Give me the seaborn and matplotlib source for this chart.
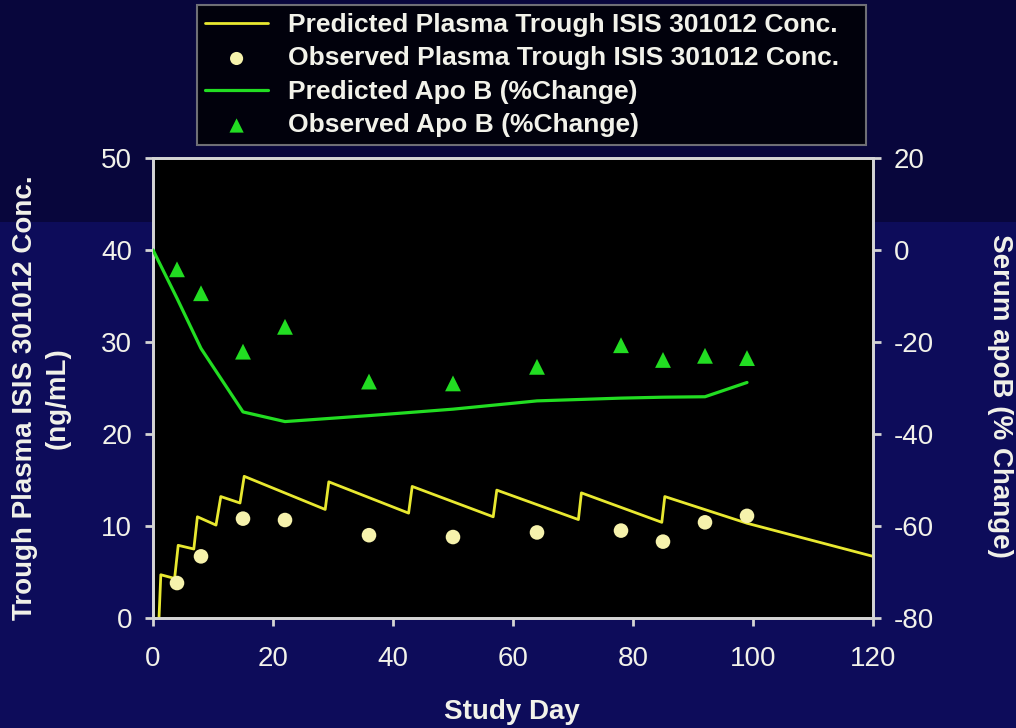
import numpy as np
import pandas as pd
import matplotlib
matplotlib.use("Agg")
import matplotlib.pyplot as plt
from matplotlib.patches import Rectangle
import seaborn as sns

# ---- data ----
pred_conc_day = [1.0, 1.3, 3.6, 4.2, 6.8, 7.4, 10.5, 11.3, 14.5, 15.2, 28.7, 29.3,
                 42.6, 43.2, 56.7, 57.3, 70.9, 71.4, 84.8, 85.3, 99.0, 120.0]
pred_conc = [0.0, 4.7, 4.3, 7.9, 7.5, 11.0, 10.1, 13.2, 12.5, 15.4, 11.8, 14.8,
             11.4, 14.3, 11.0, 13.9, 10.7, 13.6, 10.4, 13.2, 10.3, 6.7]

obs_conc_day = [4, 8, 15, 22, 36, 50, 64, 78, 85, 92, 99]
obs_conc = [3.8, 6.7, 10.8, 10.65, 9.0, 8.8, 9.3, 9.5, 8.3, 10.4, 11.1]

pred_apob_day = [0, 4, 8, 15, 22, 36, 50, 64, 78, 85, 92, 99]
pred_apob = [0.0, -10.5, -21.4, -35.2, -37.3, -36.0, -34.6, -32.8, -32.2, -32.0, -31.9, -28.8]

obs_apob_day = [4, 8, 15, 22, 36, 50, 64, 78, 85, 92, 99]
obs_apob = [-4.2, -9.4, -22.1, -16.7, -28.6, -29.0, -25.4, -20.7, -23.9, -23.0, -23.5]

labels = ["Predicted Plasma Trough ISIS 301012 Conc.",
          "Observed Plasma Trough ISIS 301012 Conc.",
          "Predicted Apo B (%Change)",
          "Observed Apo B (%Change)"]

x_ticks = [0, 20, 40, 60, 80, 100, 120]
left_ticks = [0, 10, 20, 30, 40, 50]
right_ticks = [-80, -60, -40, -20, 0, 20]

# ---- styling ----
sns.set_theme(style="white")
plt.rcParams["font.family"] = ["Liberation Sans", "DejaVu Sans"]
plt.rcParams["axes.unicode_minus"] = False

BG_BOTTOM = "#0d0c5a"
BG_TOP = "#08063c"
SPINE = "#d4d4d4"
TEXT = "#f2f2ea"
YELLOW = "#e8e830"
PALE = "#f6f2ac"
GREEN = "#22dd22"

fig = plt.figure(figsize=(10.16, 7.28), dpi=100)
fig.patch.set_facecolor(BG_BOTTOM)
fig.patches.append(Rectangle((0, 1 - 222 / 728), 1, 222 / 728, transform=fig.transFigure,
                             facecolor=BG_TOP, edgecolor="none", zorder=-10))

ax = fig.add_axes([153 / 1016, 110 / 728, 720 / 1016, 460 / 728])
ax.set_facecolor("black")
ax2 = ax.twinx()

df_pc = pd.DataFrame({"day": pred_conc_day, "val": pred_conc})
df_oc = pd.DataFrame({"day": obs_conc_day, "val": obs_conc})
df_pa = pd.DataFrame({"day": pred_apob_day, "val": pred_apob})
df_oa = pd.DataFrame({"day": obs_apob_day, "val": obs_apob})

sns.lineplot(data=df_pc, x="day", y="val", ax=ax, color=YELLOW, lw=2.0,
             estimator=None, sort=False, label=labels[0], zorder=3)
sns.scatterplot(data=df_oc, x="day", y="val", ax=ax, color=PALE, s=110,
                marker="o", edgecolor="none", label=labels[1], zorder=4)
sns.lineplot(data=df_pa, x="day", y="val", ax=ax2, color=GREEN, lw=2.3,
             estimator=None, sort=False, label=labels[2], zorder=3)
sns.scatterplot(data=df_oa, x="day", y="val", ax=ax2, color=GREEN, s=130,
                marker="^", edgecolor="none", label=labels[3], zorder=4)

h1, l1 = ax.get_legend_handles_labels()
h2, l2 = ax2.get_legend_handles_labels()
for a in (ax, ax2):
    if a.get_legend() is not None:
        a.get_legend().remove()

ax.set_xlim(0, 120)
ax.set_ylim(0, 50)
ax2.set_ylim(-80, 20)
ax.set_xticks(x_ticks)
ax.set_yticks(left_ticks)
ax2.set_yticks(right_ticks)

for a in (ax, ax2):
    for sp in a.spines.values():
        sp.set_color(SPINE)
        sp.set_linewidth(2.0)
    a.tick_params(colors=SPINE, labelcolor=TEXT, labelsize=20, width=2, length=6,
                  direction="out")
    a.grid(False)
ax2.patch.set_visible(False)
ax.tick_params(axis="y", left=True, right=False, pad=9)
ax.tick_params(axis="x", bottom=True, pad=14)
ax2.tick_params(axis="y", right=True, left=False, pad=9)

ax.set_xlabel("Study Day", fontsize=20, fontweight="bold", color=TEXT)
ax.xaxis.set_label_coords(0.4986, -0.177)
ax.set_ylabel("Trough Plasma ISIS 301012 Conc.\n(ng/mL)", fontsize=20,
              fontweight="bold", color=TEXT, linespacing=1.3,
              va="center", ha="center")
ax.yaxis.set_label_coords(-0.155, 0.478)
ax2.set_ylabel("Serum apoB (% Change)", fontsize=20, fontweight="bold",
               color=TEXT, rotation=270, va="center", ha="center")
ax2.yaxis.set_label_coords(1.176, 0.483)

leg = fig.legend(h1 + h2, l1 + l2, loc="upper left",
                 bbox_to_anchor=(197 / 1016, 1 - 5 / 728, (866 - 197) / 1016, 0),
                 mode="expand", frameon=True, fancybox=False,
                 prop={"size": 19, "weight": "bold"}, labelcolor=TEXT,
                 handlelength=2.4, handletextpad=0.75, labelspacing=0.36,
                 borderpad=0.3, borderaxespad=0, markerscale=0.9)
leg.get_frame().set_facecolor("black")
leg.get_frame().set_edgecolor("#8a8a8a")
leg.get_frame().set_linewidth(1.5)

fig.savefig("out.png", dpi=100, facecolor=fig.get_facecolor())
